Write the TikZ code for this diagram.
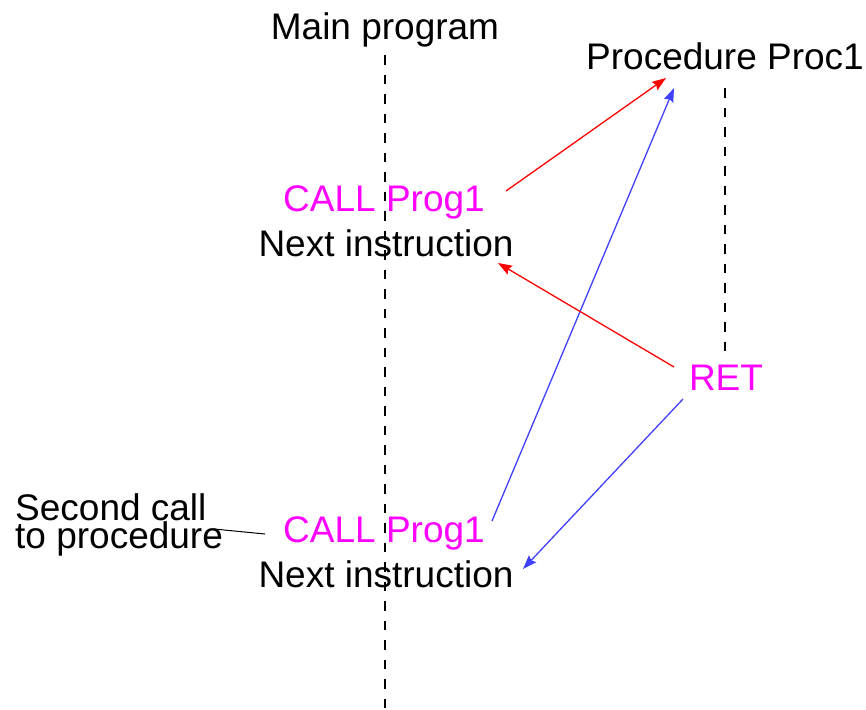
\documentclass[tikz,border=0pt]{standalone}
\usepackage{fontspec}
\setmainfont{Liberation Sans}
\usetikzlibrary{arrows.meta}
\definecolor{mag}{RGB}{255,0,255}
\definecolor{arblue}{RGB}{64,64,255}
\definecolor{arred}{RGB}{255,0,0}
\begin{document}
\begin{tikzpicture}[x=1pt,y=-1pt,
  txt/.style={inner sep=0pt,anchor=base,font=\fontsize{37}{37}\selectfont},
  magtxt/.style={txt,text=mag},
  lifeline/.style={draw=black,line width=2.2pt,dash pattern=on 9.5pt off 10pt},
  redarrow/.style={draw=arred,line width=1.3pt,-{Stealth[length=14pt,width=10pt,inset=2pt]}},
  bluearrow/.style={draw=arblue,line width=1.3pt,-{Stealth[length=14pt,width=10pt,inset=2pt]}},
  thinline/.style={draw=black,line width=1pt}]
\useasboundingbox (0,0) rectangle (866,709);
% lifelines first (behind text)
\coordinate (mainbase) at (385,40);
\coordinate (procbase) at (725,70);
\coordinate (retbase) at (726,390);
\draw[lifeline] ([shift={(0,15)}]mainbase) -- ([shift={(0,669)}]mainbase);
\draw[lifeline] ([shift={(0,18)}]procbase) -- ([shift={(-1,-35)}]retbase);
% texts
\node[txt] (main) at (mainbase) {Main program};
\node[txt] (proc) at (procbase) {Procedure Proc1};
\node[magtxt] (call1) at (384,211) {CALL Prog1};
\node[txt] (next1) at (386,256) {Next instruction};
\node[magtxt] (ret) at (retbase) {RET};
\node[magtxt] (call2) at (384,542) {CALL Prog1};
\node[txt] (next2) at (386,587) {Next instruction};
\node[txt,anchor=base west] (lbl1) at (15,520) {Second call};
\node[txt,anchor=base west] (lbl2) at (15,548) {to procedure};
% arrows
\draw[redarrow] ([shift={(122,-20)}]call1.base) -- ([shift={(-59,8)}]proc.base);
\draw[bluearrow] ([shift={(108,-21)}]call2.base) -- ([shift={(-51,18)}]proc.base);
\draw[redarrow] ([shift={(-52,-23)}]ret.base) -- ([shift={(112,7)}]next1.base);
\draw[bluearrow] ([shift={(-43,9)}]ret.base) -- ([shift={(137,-18)}]next2.base);
\draw[thinline] ([shift={(199,-19)}]lbl2.base west) -- ([shift={(-119,-8)}]call2.base);
\end{tikzpicture}
\end{document}
